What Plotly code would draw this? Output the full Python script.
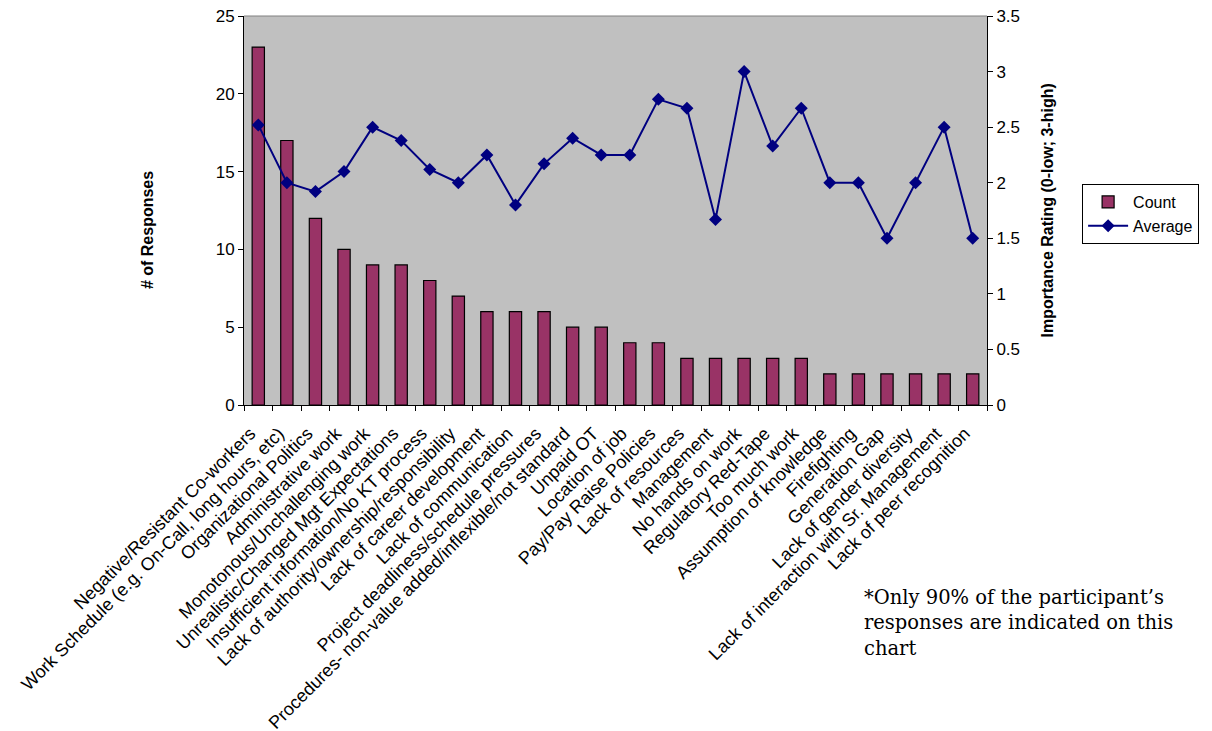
import plotly.graph_objects as go

# Survey results: number of responses per issue and its average importance rating
categories = [
    "Negative/Resistant Co-workers",
    "Work Schedule (e.g. On-Call, long hours, etc)",
    "Organizational Politics",
    "Administrative work",
    "Monotonous/Unchallenging work",
    "Unrealistic/Changed Mgt Expectations",
    "Insufficient information/No KT process",
    "Lack of authority/ownership/responsibility",
    "Lack of career development",
    "Lack of communication",
    "Project deadliness/schedule pressures",
    "Procedures- non-value added/inflexible/not standard",
    "Unpaid OT",
    "Location of job",
    "Pay/Pay Raise Policies",
    "Lack of resources",
    "Management",
    "No hands on work",
    "Regulatory Red-Tape",
    "Too much work",
    "Assumption of knowledge",
    "Firefighting",
    "Generation Gap",
    "Lack of gender diversity",
    "Lack of interaction with Sr. Management",
    "Lack of peer recognition",
]

count = [23, 17, 12, 10, 9, 9, 8, 7, 6, 6, 6, 5, 5, 4, 4, 3, 3, 3, 3, 3, 2, 2, 2, 2, 2, 2]

average = [2.52, 2.0, 1.92, 2.1, 2.5, 2.38, 2.12, 2.0, 2.25, 1.8, 2.17, 2.4, 2.25,
           2.25, 2.75, 2.67, 1.67, 3.0, 2.33, 2.67, 2.0, 2.0, 1.5, 2.0, 2.5, 1.5]

left_ticks = [0, 5, 10, 15, 20, 25]
right_ticks = [0, 0.5, 1, 1.5, 2, 2.5, 3, 3.5]
right_tick_text = ["0", "0.5", "1", "1.5", "2", "2.5", "3", "3.5"]

FONT = "Liberation Sans, Arial, sans-serif"

fig = go.Figure()

fig.add_trace(go.Bar(
    x=categories, y=count, name="Count",
    marker=dict(color="#993366", line=dict(color="black", width=1.2)),
    yaxis="y",
))

fig.add_trace(go.Scatter(
    x=categories, y=average, name="Average",
    mode="lines+markers",
    line=dict(color="#000080", width=2),
    marker=dict(symbol="diamond", size=10, color="#000080"),
    yaxis="y2",
))

fig.update_layout(
    width=1212, height=731,
    margin=dict(l=244, r=225, t=16, b=326, autoexpand=False),
    paper_bgcolor="white",
    plot_bgcolor="#C0C0C0",
    font=dict(family=FONT, size=17, color="black"),
    bargap=0.57,
    showlegend=True,
    legend=dict(
        x=1.128, y=0.568, xanchor="left", yanchor="top",
        bordercolor="black", borderwidth=1, bgcolor="white",
        font=dict(family=FONT, size=16),
        itemwidth=40, tracegroupgap=0,
    ),
    xaxis=dict(
        type="category",
        range=[-0.5, len(categories) - 0.5],
        tickangle=-45,
        tickson="boundaries",
        ticks="outside", ticklen=5, tickcolor="black",
        ticklabelstandoff=10, ticklabelshift=-8,
        showline=True, linecolor="black", linewidth=1,
        showgrid=False, zeroline=False,
        tickfont=dict(family=FONT, size=18),
        automargin=False,
    ),
    yaxis=dict(
        range=[0, 25], tickvals=left_ticks,
        ticks="outside", ticklen=5, tickcolor="black",
        showline=True, linecolor="black", linewidth=1,
        showgrid=False, zeroline=False,
        tickfont=dict(family=FONT, size=17),
        automargin=False,
    ),
    yaxis2=dict(
        range=[0, 3.5], tickvals=right_ticks, ticktext=right_tick_text,
        overlaying="y", side="right",
        ticks="outside", ticklen=5, tickcolor="black",
        showline=True, linecolor="black", linewidth=1,
        showgrid=False, zeroline=False,
        tickfont=dict(family=FONT, size=17),
        automargin=False,
    ),
    shapes=[dict(
        type="line", xref="paper", yref="paper",
        x0=0, x1=1, y0=1, y1=1,
        line=dict(color="#808080", width=1),
    )],
    annotations=[
        dict(
            text="<b># of Responses</b>", textangle=-90,
            xref="paper", yref="paper", x=-0.129, y=0.45,
            xanchor="center", yanchor="middle", showarrow=False,
            font=dict(family=FONT, size=16),
        ),
        dict(
            text="<b>Importance Rating (0-low; 3-high)</b>", textangle=-90,
            xref="paper", yref="paper", x=1.082, y=0.5,
            xanchor="center", yanchor="middle", showarrow=False,
            font=dict(family=FONT, size=16),
        ),
        dict(
            text="*Only 90% of the participant\u2019s<br>responses are indicated on this<br>chart",
            xref="paper", yref="paper", x=0.832, y=-0.46,
            xanchor="left", yanchor="top", align="left", showarrow=False,
            font=dict(family="DejaVu Serif, serif", size=19.5),
        ),
    ],
)

fig.write_html("out.html")
